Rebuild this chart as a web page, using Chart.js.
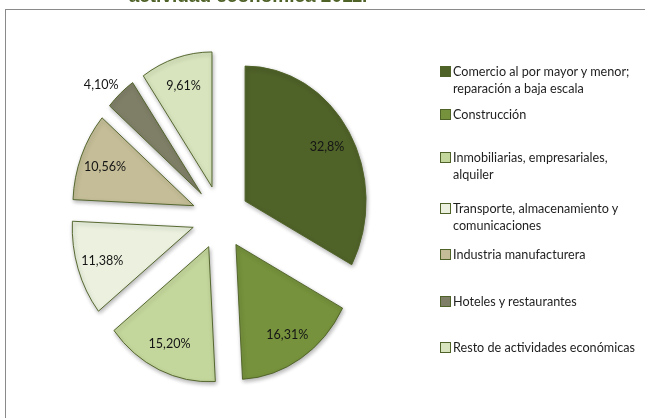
<!DOCTYPE html>
<html>
<head>
<meta charset="utf-8">
<script src="https://cdn.jsdelivr.net/npm/chart.js@4"></script>
<style>
  html, body { margin: 0; padding: 0; background: #fff; overflow: hidden; }
  body { width: 645px; height: 418px; position: relative; font-family: Lato, sans-serif; }
  #frame { position: absolute; left: 5px; top: 9px; width: 700px; height: 500px; border: 1px solid #8a8a8a; }
  #title { position: absolute; left: 0; width: 496px; top: -15px; text-align: center; white-space: nowrap;
           font: bold 19px "Liberation Sans", Arial, sans-serif; color: #4f6228; }
  #chart { position: absolute; left: 0; top: 0; }
  .item { position: absolute; left: 440px; font-size: 13.5px; line-height: 17px; color: #1e1e1e; white-space: nowrap; }
  .item i { position: absolute; left: 0; top: 3px; width: 9px; height: 9px; border: 1px solid #4f6228; }
  .item span { display: inline-block; margin-left: 13px; transform: scaleX(0.935); transform-origin: left top; }
</style>
</head>
<body>
<div id="frame"></div>
<canvas id="chart" width="645" height="418"></canvas>
<div id="title">actividad económica 2011.</div>
<div id="legend"></div>
<script>
// sectores (cada entrada: líneas de la leyenda)
const sectores = [
  ['Comercio al por mayor y menor;', 'reparación a baja escala'],
  ['Construcción'],
  ['Inmobiliarias, empresariales,', 'alquiler'],
  ['Transporte, almacenamiento y', 'comunicaciones'],
  ['Industria manufacturera'],
  ['Hoteles y restaurantes'],
  ['Resto de actividades económicas']
];
const participacion = [32.8, 16.31, 15.20, 11.38, 10.56, 4.10, 9.61];
const etiquetas = ['32,8%', '16,31%', '15,20%', '11,38%', '10,56%', '4,10%', '9,61%'];

const colores = ['#4f6228', '#76923c', '#c3d69b', '#ebf1de', '#c4bd97', '#7f7e67', '#d7e4bd'];
const legendTop = [63, 106, 149, 200, 246, 293, 339];

const explode = 32;    // separación de las porciones
const squash = 0.896;  // la imagen original está comprimida en horizontal

const explodedPie = {
  id: 'explodedPie',
  beforeDatasetDraw(chart, args) {
    const ctx = chart.ctx;
    const arcs = args.meta.data;
    const cx = arcs[0].x, cy = arcs[0].y;
    ctx.save();
    ctx.translate(cx, cy);
    ctx.scale(squash, 1);
    ctx.translate(-cx, -cy);
    arcs.forEach(arc => {
      const mid = (arc.startAngle + arc.endAngle) / 2;
      ctx.save();
      ctx.translate(Math.cos(mid) * explode, Math.sin(mid) * explode);
      ctx.shadowColor = 'rgba(0,0,0,0.3)';
      ctx.shadowBlur = 4;
      ctx.shadowOffsetX = 1;
      ctx.shadowOffsetY = 2;
      arc.draw(ctx);
      ctx.restore();
    });
    ctx.restore();
    return false;
  },
  afterDatasetsDraw(chart) {
    const ctx = chart.ctx;
    const arcs = chart.getDatasetMeta(0).data;
    ctx.save();
    ctx.fillStyle = '#151515';
    arcs.forEach((arc, i) => {
      const mid = (arc.startAngle + arc.endAngle) / 2;
      const cos = Math.cos(mid), sin = Math.sin(mid);
      let r, align = 'center', base = 'middle';
      if (participacion[i] < 5) {
        // porción pequeña: etiqueta fuera, junto al borde exterior
        r = explode + arc.outerRadius + 3;
        align = cos < 0 ? 'right' : 'left';
        base = sin < 0 ? 'bottom' : 'top';
      } else {
        r = explode + 0.79 * arc.outerRadius;
      }
      const x = arc.x + cos * r * squash, y = arc.y + sin * r;
      ctx.save();
      ctx.translate(x, y);
      ctx.scale(squash, 1);
      ctx.font = '14px Lato';
      ctx.textAlign = align;
      ctx.textBaseline = base;
      ctx.fillText(etiquetas[i], 0, 0);
      ctx.restore();
    });
    ctx.restore();
  }
};

new Chart(document.getElementById('chart'), {
  type: 'pie',
  data: {
    labels: sectores.map(s => s.join(' ')),
    datasets: [{
      data: participacion,
      backgroundColor: colores,
      borderColor: '#4f6228',
      borderWidth: 1
    }]
  },
  options: {
    responsive: false,
    animation: false,
    layout: { padding: { left: 85, top: 82, right: 289, bottom: 65 } },
    plugins: {
      legend: { display: false },
      tooltip: { enabled: false }
    }
  },
  plugins: [explodedPie]
});

const legend = document.getElementById('legend');
sectores.forEach((lines, i) => {
  const div = document.createElement('div');
  div.className = 'item';
  div.style.top = legendTop[i] + 'px';
  div.innerHTML = '<i style="background:' + colores[i] + '"></i><span>' + lines.join('<br>') + '</span>';
  legend.appendChild(div);
});
</script>
</body>
</html>
